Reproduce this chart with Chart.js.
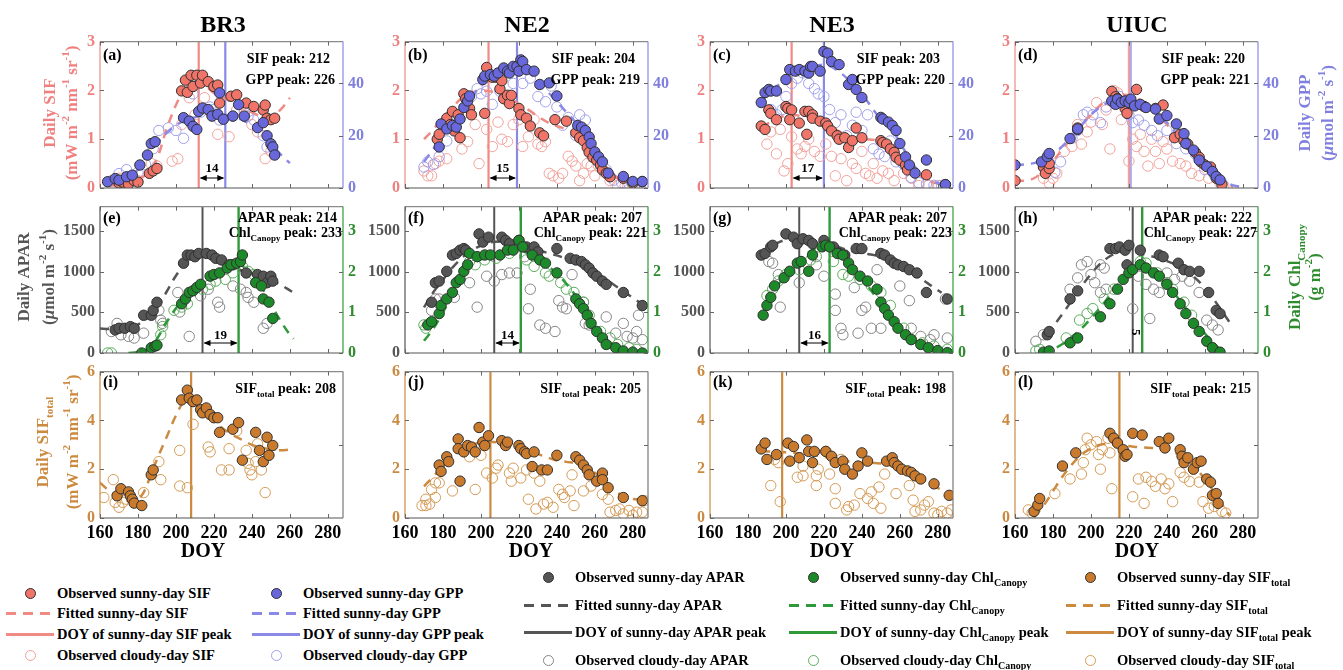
<!DOCTYPE html>
<html>
<head>
<meta charset="utf-8">
<script src="https://cdn.jsdelivr.net/npm/chart.js@4.4.0/dist/chart.umd.min.js"></script>
<style>
  body { margin: 0; background: #fff; width: 1343px; height: 670px; overflow: hidden; position: relative; font-family: "Liberation Serif", "Times New Roman", serif; }
  canvas { position: absolute; }
  .ttl { position: absolute; top: 11px; font-weight: bold; font-size: 24px; line-height: 26px; transform: translateX(-50%); }
  .li { position: absolute; height: 20px; white-space: nowrap; font-weight: bold; font-size: 14.5px; line-height: 20px; }
  .li .mk { position: absolute; left: 0; top: 0; width: 50px; height: 20px; }
  .li .tx { position: absolute; left: 51px; top: 0; }
  .li sub { font-size: 10px; vertical-align: -4px; }
</style>
</head>
<body>
<script>
const sites = ['BR3', 'NE2', 'NE3', 'UIUC'];
const letters = ['a', 'b', 'c', 'd', 'e', 'f', 'g', 'h', 'i', 'j', 'k', 'l'];
const xTicks = [160, 180, 200, 220, 240, 260, 280];
const sifTicks = [0, 1, 2, 3];
const gppTicks = [0, 20, 40];
const aparTicks = [0, 500, 1000, 1500];
const chlTicks = [0, 1, 2, 3];
const siftTicks = [0, 2, 4, 6];

const sifPeak = [212, 204, 203, 220];
const gppPeak = [226, 219, 220, 221];
const aparPeak = [214, 207, 207, 222];
const chlPeak = [233, 221, 223, 227];
const siftPeak = [208, 205, 198, 215];

// ---- BR3 ----
const br3SifSun = [[170,0.1],[172,0.12],[175,0.08],[178,0.15],[180,0.12],[186,0.3],[188,0.35],[190,0.4],[203,1.99],[205,2.21],[206,1.96],[208,2.31],[209,2.08],[211,2.31],[213,2.15],[214,2.31],[217,2.18],[220,2.08],[222,2.11],[223,1.74],[229,1.88],[232,1.91],[237,1.74],[241,1.67],[246,1.6],[247,1.7],[248,1.43],[250,1.4],[252,1.43]];
const br3GppSun = [[164,2.4],[168,3.6],[170,3.0],[174,4.3],[177,4.9],[181,8.8],[185,12.6],[187,17],[189,17.7],[204,26.9],[207,25.6],[209,23.6],[211,22.4],[212,29.3],[214,30.6],[217,30],[219,27.5],[222,28.2],[223,36.4],[225,26.3],[230,27.5],[233,31.9],[236,27.5],[243,23.1],[246,25],[248,20],[250,16.9],[251,15.7],[252,12.6]];
const br3SifCloud = [[166,0.15],[170,0.2],[175,0.1],[180,0.15],[187,0.5],[190,0.45],[198,0.55],[201,0.6],[203,1.3],[207,1.85],[210,1.5],[215,1.85],[218,1.55],[222,1.1],[228,1.05],[232,1.6],[236,1.5],[240,1.3],[243,1.15],[247,0.6],[250,0.75]];
const br3GppCloud = [[165,2.4],[168,3],[170,5.5],[174,7],[180,6],[184,9],[188,15],[191,22],[196,23],[200,22],[204,19],[209,36],[213,29],[218,31],[220,30],[223,26],[230,27.5],[236,29],[238,27.5],[241,26],[246,20],[248,15.7]];
const br3SifFit = [[165,0.05],[170,0.06],[175,0.1],[180,0.18],[185,0.3],[190,0.6],[195,1.2],[200,1.7],[205,2.05],[210,2.15],[215,2.1],[220,1.95],[225,1.85],[230,1.75],[235,1.65],[240,1.55],[245,1.47],[250,1.45],[255,1.6],[260,1.85]];
const br3GppFit = [[163,2],[170,3],[175,4.5],[180,7],[185,12],[190,17],[195,21],[200,24],[205,26],[210,27],[215,28],[220,28],[225,28],[230,27.5],[235,26],[240,24],[245,21],[250,17],[255,13],[260,9.5]];
const br3AparSun = [[168,284],[170,304],[173,304],[176,324],[178,304],[183,464],[187,464],[188,524],[190,624],[204,1104],[206,1204],[208,1204],[210,1184],[212,1224],[216,1224],[219,1204],[221,1164],[224,1144],[228,1084],[230,1084],[237,984],[243,964],[246,944],[248,864],[250,944],[251,884]];
const br3ChlSun = [[182,0],[187,0.13],[189,0.17],[190,0.19],[203,1.21],[205,1.33],[207,1.49],[209,1.53],[211,1.61],[213,1.69],[218,1.89],[220,1.93],[223,1.97],[227,2.09],[229,2.17],[232,2.21],[234,2.25],[235,2.41],[242,1.73],[245,1.65],[246,1.33],[249,1.25],[251,0.85]];
const br3AparCloud = [[166,264],[169,364],[171,224],[175,204],[178,184],[183,244],[191,524],[192,404],[193,364],[201,744],[202,504],[207,204],[213,704],[217,784],[222,624],[223,564],[230,824],[234,784],[237,744],[238,684],[241,624],[246,304],[248,364]];
const br3ChlCloud = [[164,0],[166,0],[192,0.45],[193,0.65],[199,1.05],[203,1.13],[206,1.21],[214,1.57],[218,1.69],[221,1.77],[226,1.81],[230,1.97],[235,2.13],[238,2.01],[241,1.93]];
const br3AparFit = [[160,300],[165,295],[170,295],[175,305],[180,350],[185,430],[190,560],[195,750],[200,950],[205,1100],[210,1180],[215,1190],[220,1160],[225,1110],[230,1060],[235,1010],[240,970],[245,930],[250,890],[255,840],[260,770],[262,740]];
const br3ChlFit = [[175,0],[180,0.02],[185,0.1],[190,0.35],[195,0.75],[200,1.1],[205,1.38],[210,1.6],[215,1.78],[220,1.92],[225,2.03],[230,2.12],[234,2.15],[238,2.05],[242,1.85],[246,1.55],[250,1.2],[255,0.8],[260,0.45],[262,0.35]];
const br3SiftSun = [[169,0.91],[171,1.2],[175,1.07],[176,0.91],[177,0.77],[178,0.61],[182,0.51],[187,1.77],[188,1.97],[203,4.84],[206,5.24],[207,4.91],[209,4.77],[211,4.84],[213,4.44],[214,4.31],[216,4.51],[218,4.24],[220,4.11],[222,4.11],[223,3.51],[230,3.64],[233,3.91],[235,2.37],[242,3.51],[244,2.77],[246,2.31],[248,3.31],[249,2.57],[251,2.97]];
const br3SiftCloud = [[162,0.84],[167,1.57],[168,0.64],[170,0.44],[172,0.64],[174,0.77],[183,1.04],[191,2.31],[192,1.57],[202,2.77],[202,1.31],[206,1.24],[209,3.84],[217,2.91],[218,2.71],[224,1.97],[228,1.97],[228,2.84],[232,3.57],[237,2.77],[238,2.24],[239,1.97],[240,1.77],[242,2.31],[243,3.04],[245,1.97],[247,1.04]];
const br3SiftFit = [[160,1.45],[165,1.1],[170,0.85],[175,0.7],[178,0.65],[180,0.75],[183,1.05],[186,1.6],[190,2.4],[195,3.3],[200,4.2],[205,4.9],[208,5.05],[212,4.55],[216,4.2],[220,3.95],[225,3.65],[230,3.4],[235,3.2],[240,3.0],[245,2.9],[250,2.8],[255,2.78],[260,2.8]];

// ---- NE2 ----
const ne2SifSun = [[177,1.0],[178,1.1],[182,1.43],[184,1.3],[185,1.57],[186,1.17],[188,1.5],[189,1.03],[191,1.93],[192,1.83],[194,1.63],[195,1.5],[202,1.53],[203,2.47],[206,2.27],[208,2.27],[210,2.03],[211,2.2],[212,1.83],[214,1.9],[215,1.73],[216,1.9],[220,1.63],[221,1.5],[224,1.43],[226,1.27],[231,1.13],[233,1.07],[239,1.4],[245,1.37],[250,1.13],[252,1.03],[254,0.97],[256,0.83],[257,0.73],[259,0.63],[261,0.57],[263,0.47],[264,0.37],[266,0.3],[268,0.23],[275,0.2],[280,0.1],[285,0.13]];
const ne2GppSun = [[178,15.7],[179,24.5],[182,22.6],[185,23.9],[187,23.3],[189,26.4],[191,30.8],[193,33.3],[194,35.2],[201,41.5],[202,42.8],[205,43.4],[207,42.8],[209,44],[212,45.9],[214,44.7],[215,44],[217,46.5],[219,46.5],[220,44.7],[221,49],[222,48.4],[224,45.3],[228,44.7],[231,39.6],[236,40.2],[240,35.2],[251,23.9],[253,23.3],[255,22],[257,19.5],[258,17],[260,13.8],[262,11.9],[264,10],[267,5.7],[275,4.4],[280,2.5],[285,2.5]];
const ne2SifCloud = [[170,0.35],[172,0.25],[174,0.25],[176,0.5],[178,0.55],[182,0.6],[186,1.25],[190,0.8],[193,0.95],[197,1.3],[199,0.5],[203,1.2],[206,0.85],[209,1.35],[211,1.0],[214,0.95],[217,1.3],[220,1.4],[222,0.85],[225,1.05],[228,1.4],[230,0.9],[232,0.85],[234,0.95],[236,0.3],[238,0.25],[241,0.2],[243,0.3],[246,0.65],[248,0.55],[250,0.45],[252,0.15],[254,0.3],[256,0.5],[258,0.45],[260,0.25],[262,0.45],[265,0.35],[268,0.15],[272,0.05],[276,0.05],[280,0.05],[284,0.05]];
const ne2GppCloud = [[170,8],[172,10],[175,9],[178,12],[182,18],[186,22],[190,28],[195,35],[198,38],[200,36],[203,37],[206,32],[210,37],[213,35],[217,40],[222,40],[226,42],[230,35],[234,33],[237,39],[240,31],[243,24],[246,27],[250,20],[252,28],[255,26],[258,14],[262,10],[266,7],[270,3],[274,2],[278,1.5],[282,1],[286,1]];
const ne2SifFit = [[170,1.0],[175,1.2],[180,1.45],[185,1.65],[190,1.85],[195,1.95],[200,2.0],[205,1.98],[210,1.93],[215,1.85],[220,1.72],[225,1.6],[230,1.47],[235,1.35],[240,1.27],[245,1.2],[250,1.1],[255,0.9],[260,0.65],[265,0.42],[270,0.25],[275,0.14],[280,0.1],[285,0.1]];
const ne2GppFit = [[170,10],[175,15],[180,20],[185,25],[190,30],[195,35],[200,39],[205,42],[210,44],[215,45],[220,45],[225,44],[230,41],[235,37],[240,33],[245,29],[250,25],[255,20],[260,14],[265,9],[270,5],[275,3],[280,2],[285,2]];
const ne2AparSun = [[174,624],[176,864],[178,884],[182,1004],[185,1204],[187,1224],[189,1264],[191,1284],[192,1264],[199,1464],[201,1364],[204,1424],[211,1424],[213,1384],[215,1344],[220,1384],[224,1304],[228,1304],[230,1244],[240,1284],[247,1164],[250,1144],[253,1124],[255,1084],[257,1044],[259,984],[261,944],[264,884],[266,844],[275,744],[285,584]];
const ne2ChlSun = [[172,0.69],[174,0.77],[178,0.97],[179,1.17],[182,1.33],[185,1.49],[187,1.73],[189,1.81],[191,2.01],[193,2.17],[194,2.45],[198,2.37],[202,2.41],[205,2.41],[210,2.41],[214,2.53],[217,2.53],[220,2.77],[222,2.61],[227,2.41],[231,2.29],[234,2.21],[240,1.97],[250,1.33],[252,1.21],[254,1.09],[256,0.93],[258,0.73],[261,0.53],[264,0.37],[266,0.21],[271,0.13],[275,0.05],[280,0.02],[285,0]];
const ne2AparCloud = [[174,524],[176,664],[178,664],[186,684],[194,864],[198,564],[203,944],[207,884],[211,964],[215,984],[219,984],[223,1184],[226,784],[225,544],[231,344],[234,304],[239,264],[241,644],[243,564],[245,544],[248,964],[254,624],[255,364],[257,344],[266,444],[271,244],[275,364],[277,204],[280,184],[282,264],[283,464],[285,164]];
const ne2ChlCloud = [[170,0.69],[171,0.61],[173,0.73],[194,2.25],[197,2.17],[202,2.29],[208,2.33],[215,2.45],[224,2.29],[228,2.13],[234,1.97],[236,1.89],[242,1.73],[245,1.57],[249,1.49],[254,1.25],[257,0.93],[263,0.53],[268,0.37],[272,0.21],[278,0.13],[282,0.09]];
const ne2AparFit = [[170,560],[175,750],[180,900],[185,1050],[190,1170],[195,1260],[200,1320],[205,1360],[210,1370],[215,1360],[220,1340],[225,1310],[230,1270],[235,1230],[240,1200],[245,1160],[250,1120],[255,1070],[260,1000],[265,920],[270,840],[275,760],[280,680],[285,600]];
const ne2ChlFit = [[170,0.3],[175,0.6],[180,1.0],[185,1.45],[190,1.85],[195,2.15],[200,2.3],[205,2.35],[210,2.4],[215,2.45],[220,2.5],[225,2.45],[230,2.3],[235,2.15],[240,1.95],[245,1.7],[250,1.4],[255,1.05],[260,0.7],[265,0.4],[270,0.2],[275,0.08],[280,0.03],[285,0.01]];
const ne2SiftSun = [[178,2.17],[179,1.91],[182,2.51],[183,2.31],[188,3.24],[188,2.84],[191,2.71],[193,2.97],[195,2.91],[189,1.51],[197,2.71],[199,3.71],[201,3.11],[202,2.97],[204,3.37],[211,3.17],[213,2.97],[214,3.11],[220,2.97],[221,2.84],[223,2.71],[224,2.64],[228,2.71],[227,2.11],[232,1.97],[235,1.97],[240,2.57],[250,2.51],[252,2.37],[254,2.17],[256,1.97],[257,1.77],[261,1.51],[264,1.84],[264,1.57],[267,1.24],[275,0.84],[285,0.71]];
const ne2SiftCloud = [[169,0.51],[171,0.77],[171,0.51],[173,0.57],[174,1.17],[176,1.44],[178,1.44],[176,0.84],[185,1.11],[194,2.51],[197,1.17],[200,2.57],[203,1.84],[206,1.64],[208,2.04],[209,2.17],[215,1.84],[216,1.51],[217,2.04],[221,1.64],[224,1.97],[225,0.77],[228,1.84],[229,0.37],[231,1.51],[233,0.57],[235,0.64],[238,0.44],[241,1.17],[243,0.97],[244,0.84],[247,1.11],[248,1.77],[249,0.51],[254,1.11],[258,1.31],[264,0.97],[267,0.77],[268,0.24],[271,0.31],[273,0.37],[275,0.17],[278,0.31],[280,0.11],[282,0.24],[285,0.24],[286,0.71]];
const ne2SiftFit = [[170,1.3],[175,1.7],[180,2.15],[185,2.55],[190,2.85],[195,3.0],[200,3.1],[205,3.12],[210,3.08],[215,3.0],[220,2.9],[225,2.78],[230,2.62],[235,2.48],[240,2.36],[245,2.3],[250,2.25],[255,2.1],[260,1.85],[265,1.5],[270,1.15],[275,0.9],[280,0.78],[285,0.75]];

// ---- NE3 ----
const ne3SifSun = [[187,1.27],[189,1.2],[191,1.6],[192,1.53],[195,1.4],[200,1.67],[201,1.63],[203,1.6],[202,1.4],[207,1.33],[210,1.57],[212,1.57],[214,1.5],[211,1.1],[214,1.43],[218,1.37],[221,1.33],[222,1.27],[224,1.17],[227,1.07],[228,1.0],[231,1.03],[233,0.83],[235,0.97],[237,1.23],[240,1.03],[250,0.97],[251,0.93],[253,0.9],[255,0.8],[257,0.73],[258,0.63],[260,0.57],[263,0.47],[264,0.37],[274,0.27],[284,0.07]];
const ne3GppSun = [[187,32.7],[189,36.5],[191,37.7],[192,37.1],[195,37.1],[200,41.5],[202,45.3],[205,44.7],[207,45.3],[210,44.7],[212,44],[213,46.5],[214,46.5],[218,44.7],[220,52.2],[222,51.6],[224,48.4],[228,47.2],[233,39.6],[235,41.5],[237,37.7],[240,34.6],[250,27],[251,26.4],[254,25.2],[256,23.9],[258,22],[260,17],[263,11.9],[265,8.8],[268,5.7],[274,10.7],[284,1.3]];
const ne3SifCloud = [[190,0.9],[192,1.15],[195,0.7],[197,1.2],[199,0.35],[201,0.5],[203,1.05],[206,0.8],[208,0.7],[210,0.85],[212,1.0],[215,0.75],[218,0.65],[221,0.9],[224,0.65],[226,0.25],[229,0.6],[232,0.15],[235,0.5],[237,0.4],[240,0.75],[242,0.3],[244,0.25],[246,0.5],[248,0.2],[251,0.35],[254,0.3],[257,0.15],[262,0.3],[266,0.2],[270,0.05],[275,0.05],[280,0.05]];
const ne3GppCloud = [[192,30],[195,28],[198,30],[200,35],[203,40],[206,42],[209,44],[212,40],[215,38],[217,36],[220,35],[223,30],[226,25],[229,28],[232,20],[235,24],[237,29],[240,22],[243,28],[246,15],[249,13],[252,12],[255,18],[258,10],[262,9],[266,4],[270,2],[274,1.5],[278,1],[282,1]];
const ne3SifFit = [[187,1.25],[192,1.35],[197,1.45],[202,1.5],[207,1.48],[212,1.45],[217,1.38],[222,1.28],[227,1.18],[232,1.08],[237,1.02],[242,1.0],[247,0.98],[252,0.92],[257,0.75],[262,0.55],[267,0.35],[272,0.22],[277,0.12],[282,0.08]];
const ne3GppFit = [[187,33],[192,37],[197,40],[202,43],[207,45],[212,46],[217,47],[222,47],[227,45],[232,42],[237,38],[242,34],[247,29],[252,25],[257,21],[262,15],[267,9],[272,5],[277,2.5],[282,1.5]];
const ne3AparSun = [[187,1204],[189,1224],[192,1304],[193,1324],[200,1464],[204,1424],[206,1344],[209,1404],[212,1384],[214,1344],[220,1384],[225,1304],[228,1224],[231,1204],[237,1284],[240,1284],[250,1224],[252,1204],[255,1144],[257,1104],[259,1084],[262,1064],[265,1024],[269,984],[274,744],[285,664]];
const ne3ChlSun = [[188,0.93],[190,1.17],[192,1.37],[194,1.65],[199,1.85],[202,2.01],[206,2.21],[208,2.25],[212,2.01],[214,2.41],[219,2.61],[221,2.65],[223,2.61],[227,2.45],[230,2.41],[233,2.21],[235,2.05],[239,1.89],[243,1.77],[248,1.57],[250,1.25],[252,1.09],[254,0.93],[257,0.77],[259,0.61],[263,0.45],[266,0.33],[271,0.21],[275,0.13],[280,0.06],[285,0.01]];
const ne3AparCloud = [[191,1124],[193,1104],[196,964],[197,564],[207,864],[216,1084],[220,944],[226,524],[226,724],[229,304],[230,224],[236,804],[238,244],[240,524],[242,564],[245,304],[248,1024],[250,304],[260,824],[265,644],[266,304],[271,204],[276,164],[278,224],[284,664],[285,184]];
const ne3ChlCloud = [[190,1.41],[193,1.57],[196,1.77],[200,1.93],[207,2.05],[213,2.29],[216,2.37],[225,2.25],[230,1.93],[233,1.89],[239,1.81],[245,1.65],[250,1.49],[255,1.17],[262,0.61],[266,0.33],[272,0.25],[278,0.17],[285,0.09]];
const ne3AparFit = [[187,1220],[192,1300],[197,1370],[202,1400],[207,1410],[212,1400],[217,1380],[222,1350],[227,1310],[232,1270],[237,1240],[242,1220],[247,1200],[252,1170],[257,1120],[262,1060],[267,990],[272,900],[277,820],[282,740]];
const ne3ChlFit = [[187,0.9],[192,1.35],[197,1.75],[202,2.05],[207,2.3],[212,2.48],[217,2.6],[222,2.62],[227,2.52],[232,2.3],[237,2.02],[242,1.72],[247,1.4],[252,1.08],[257,0.78],[262,0.52],[267,0.32],[272,0.18],[277,0.09],[282,0.03]];
const ne3SiftSun = [[187,2.83],[189,3.07],[190,2.4],[195,2.6],[201,3.07],[204,2.93],[202,2.33],[207,2.47],[211,3.2],[212,2.73],[215,2.73],[214,2.27],[221,2.73],[224,2.53],[226,2.27],[230,2.33],[231,2],[235,1.8],[238,2.13],[240,2.67],[243,2.33],[253,2.33],[256,2.47],[257,2.27],[259,2.13],[261,2],[264,1.93],[266,1.87],[268,1.73],[271,1.6],[278,1.4],[286,0.93]];
const ne3SiftCloud = [[192,1.33],[194,2.4],[196,2.27],[197,0.67],[206,1.67],[209,1.73],[209,2.13],[216,1.73],[216,1.33],[217,2],[221,2.73],[223,1.8],[226,1.2],[226,0.6],[229,2.4],[232,0.33],[233,0.47],[236,0.53],[239,1],[243,0.8],[245,1.07],[246,0.6],[249,1.27],[250,0.4],[252,1.8],[258,1],[265,1.33],[267,0.73],[268,0.27],[271,0.33],[273,0.53],[275,0.67],[278,0.2],[280,0.13],[282,0.27],[285,0.2],[287,0.33]];
const ne3SiftFit = [[187,2.75],[192,2.72],[197,2.7],[202,2.68],[207,2.65],[212,2.6],[217,2.55],[222,2.48],[227,2.4],[232,2.33],[237,2.27],[242,2.25],[247,2.25],[252,2.22],[257,2.1],[262,1.95],[267,1.75],[272,1.55],[277,1.35],[282,1.15],[286,1.0]];

// ---- UIUC ----
const uiucSifSun = [[160,0.15],[175,0.43],[176,0.3],[178,0.4],[178,0.5],[193,1.2],[193,1.23],[211,1.98],[213,1.87],[214,1.83],[216,1.77],[218,1.63],[219,1.53],[224,2.02],[221,1.77],[228,1.67],[234,1.63],[238,1.7],[244,1.03],[247,1.1],[249,0.97],[251,0.9],[255,0.73],[257,0.63],[258,0.53],[260,0.47],[263,0.43],[266,0.2],[269,0.07]];
const uiucGppSun = [[160,8.8],[174,10],[177,12],[178,13.2],[189,18.9],[193,22.6],[211,33.3],[213,32],[214,34],[216,32.7],[218,33.3],[220,32.7],[221,34],[223,31.4],[226,32],[229,30.8],[234,30.2],[236,26.4],[240,27.7],[245,24.5],[249,20.8],[250,17],[254,14.5],[257,10.7],[261,8.2],[264,6.3],[266,4.4],[268,3.1]];
const uiucSifCloud = [[175,0.2],[178,0.1],[180,0.2],[182,0.3],[186,0.75],[190,0.85],[193,1.3],[195,0.9],[198,1.15],[200,1.35],[203,1.75],[206,1.3],[208,1.6],[210,0.8],[212,2.0],[214,1.95],[216,1.4],[220,0.55],[222,1.0],[224,0.85],[226,1.1],[228,0.75],[230,0.45],[232,1.0],[234,0.75],[236,0.5],[238,0.95],[240,0.8],[243,0.55],[247,0.5],[250,0.45],[253,0.3],[257,0.25],[262,0.2],[268,0.1],[270,0.05]];
const uiucGppCloud = [[175,8],[178,10],[181,6],[184,10],[190,19],[193,22],[196,28],[198,29],[201,28],[205,25],[208,31],[211,33],[215,35],[220,28],[222,25],[225,26],[228,24],[232,22],[235,20],[240,22],[245,17],[250,15],[255,13],[260,7],[265,5],[269,2]];
const uiucSifFit = [[160,0.15],[165,0.15],[170,0.2],[175,0.35],[180,0.55],[185,0.8],[190,1.05],[195,1.3],[200,1.5],[205,1.7],[210,1.85],[215,1.9],[220,1.9],[225,1.82],[230,1.7],[235,1.52],[240,1.3],[245,1.07],[250,0.85],[255,0.62],[260,0.42],[265,0.24],[270,0.1],[275,0.03]];
const uiucGppFit = [[160,8.8],[165,9],[170,9.5],[175,11],[180,13],[185,16],[190,20],[195,24],[200,28],[205,31],[210,33],[215,34],[220,34],[225,33],[230,31],[235,28],[240,25],[245,21],[250,17],[255,13],[260,9],[265,5],[270,2.5],[275,1],[280,0.3]];
const uiucAparSun = [[177,224],[178,264],[189,664],[193,764],[210,1284],[213,1284],[215,1304],[218,1264],[220,1324],[219,1084],[226,1264],[236,1204],[238,1184],[246,1104],[249,1024],[252,1004],[257,1004],[262,744],[266,524],[268,484]];
const uiucChlSun = [[175,0.02],[178,0.05],[189,0.25],[193,0.37],[205,0.89],[210,1.21],[214,1.57],[217,1.81],[220,1.97],[222,2.05],[226,2.17],[229,2.09],[233,1.97],[236,1.89],[240,1.69],[243,1.49],[247,1.21],[250,0.97],[254,0.73],[257,0.53],[261,0.29],[264,0.13],[268,0.02]];
const uiucAparCloud = [[171,144],[175,224],[189,784],[193,924],[195,1084],[198,1124],[200,964],[202,864],[205,1084],[207,1044],[208,784],[205,744],[222,544],[225,944],[229,844],[231,424],[233,784],[236,744],[240,984],[244,904],[248,944],[252,884],[257,744],[261,404],[264,344],[267,284]];
const uiucChlCloud = [[171,0.05],[173,0.09],[187,0.37],[194,0.81],[198,0.97],[201,1.09],[207,1.33],[212,1.57],[226,2.25],[229,2.21],[235,1.97],[240,1.73],[243,1.57],[249,1.25],[253,0.93]];
const uiucAparFit = [[176,240],[180,330],[185,480],[190,650],[195,820],[200,970],[205,1100],[210,1190],[215,1240],[220,1250],[225,1230],[230,1200],[235,1170],[240,1130],[245,1080],[250,1010],[255,920],[260,800],[265,650],[270,480],[273,380]];
const uiucChlFit = [[174,0.02],[180,0.1],[185,0.22],[190,0.4],[195,0.6],[200,0.85],[205,1.12],[210,1.42],[215,1.72],[220,1.98],[225,2.1],[230,2.05],[235,1.9],[240,1.68],[245,1.4],[250,1.1],[255,0.78],[260,0.48],[265,0.22],[268,0.1],[270,0.03]];
const uiucSiftSun = [[170,0.27],[172,0.53],[173,0.8],[185,2.13],[192,2.67],[210,3.47],[212,3.27],[214,3.07],[217,2.8],[218,2.53],[219,2.6],[222,3.47],[227,3.4],[236,3.13],[239,2.87],[241,3.27],[247,2.8],[248,2.53],[249,2.27],[251,2.47],[254,2],[256,2.27],[258,2.33],[261,1.6],[263,1.47],[264,0.93],[266,1],[267,0.6]];
const uiucSiftCloud = [[167,0.33],[169,0.2],[181,1],[189,1.6],[195,1.8],[196,2.27],[197,2.8],[198,3.27],[200,3],[203,3.13],[204,2.6],[205,2],[206,2.8],[209,3.27],[210,2.67],[211,1.2],[214,3.07],[222,0.87],[225,1.6],[228,0.6],[229,1.67],[232,1.5],[234,1.3],[237,1.6],[239,1.2],[241,1.4],[243,0.67],[247,1.87],[249,1.67],[252,1.5],[257,1.47],[259,0.67],[262,0.4],[265,0.47],[269,0.27],[271,0.2]];
const uiucSiftFit = [[170,0.05],[175,0.5],[180,1.1],[185,1.7],[190,2.2],[195,2.6],[200,2.85],[205,3.0],[210,3.05],[215,3.0],[220,2.95],[225,2.9],[230,2.88],[235,2.85],[240,2.8],[245,2.65],[250,2.4],[255,2.05],[260,1.6],[265,1.05],[270,0.45],[273,0.1]];

const sifSun = [br3SifSun, ne2SifSun, ne3SifSun, uiucSifSun];
const gppSun = [br3GppSun, ne2GppSun, ne3GppSun, uiucGppSun];
const sifCloud = [br3SifCloud, ne2SifCloud, ne3SifCloud, uiucSifCloud];
const gppCloud = [br3GppCloud, ne2GppCloud, ne3GppCloud, uiucGppCloud];
const sifFit = [br3SifFit, ne2SifFit, ne3SifFit, uiucSifFit];
const gppFit = [br3GppFit, ne2GppFit, ne3GppFit, uiucGppFit];
const aparSun = [br3AparSun, ne2AparSun, ne3AparSun, uiucAparSun];
const chlSun = [br3ChlSun, ne2ChlSun, ne3ChlSun, uiucChlSun];
const aparCloud = [br3AparCloud, ne2AparCloud, ne3AparCloud, uiucAparCloud];
const chlCloud = [br3ChlCloud, ne2ChlCloud, ne3ChlCloud, uiucChlCloud];
const aparFit = [br3AparFit, ne2AparFit, ne3AparFit, uiucAparFit];
const chlFit = [br3ChlFit, ne2ChlFit, ne3ChlFit, uiucChlFit];
const siftSun = [br3SiftSun, ne2SiftSun, ne3SiftSun, uiucSiftSun];
const siftCloud = [br3SiftCloud, ne2SiftCloud, ne3SiftCloud, uiucSiftCloud];
const siftFit = [br3SiftFit, ne2SiftFit, ne3SiftFit, uiucSiftFit];

// colours: [sunny fill, fitted/peak line, tick text, cloudy edge]
const cSif = ['#f07468', '#f08a84', '#f08080', '#f2a29c'];
const cGpp = ['#6868dc', '#8a8ae6', '#7f7fdf', '#a0a0ea'];
const cApar = ['#555555', '#555555', '#555555', '#858585'];
const cChl = ['#1d8a2a', '#2e9a3a', '#2e8b2e', '#5cad5c'];
const cSift = ['#c97a2c', '#cc8a40', '#cc8a40', '#d49a55'];
const EDGE = '#303030';

const FONT = '"Liberation Serif", "Times New Roman", serif';
const PL = 100, PR = 88, PT = 10, PB = 45, PW = 243, PH = 151;
const colLeft = [100, 405, 710, 1015];
const rowTop = [37, 202, 367];
const doyX = [103, 126, 122, 122];

function drawRich(ctx, parts, x, y, size, color, align, rot) {
  ctx.save();
  ctx.translate(x, y);
  if (rot) ctx.rotate(rot);
  ctx.fillStyle = color;
  ctx.textBaseline = 'alphabetic';
  ctx.textAlign = 'left';
  const small = Math.round(size * 0.66);
  const fontFor = k => (k === 'it' ? 'italic bold ' : 'bold ') + (k === 'sup' || k === 'sub' ? small : size) + 'px ' + FONT;
  let w = 0;
  parts.forEach(p => { ctx.font = fontFor(p[1]); w += ctx.measureText(p[0]).width; });
  let cx = align === 'right' ? -w : align === 'center' ? -w / 2 : 0;
  parts.forEach(p => {
    ctx.font = fontFor(p[1]);
    const dy = p[1] === 'sup' ? -size * 0.45 : p[1] === 'sub' ? size * 0.32 : 0;
    ctx.fillText(p[0], cx, dy);
    cx += ctx.measureText(p[0]).width;
  });
  ctx.restore();
}

function seg(ctx, x1, y1, x2, y2) {
  ctx.beginPath(); ctx.moveTo(x1, y1); ctx.lineTo(x2, y2); ctx.stroke();
}

const decor = {
  id: 'decor',
  beforeDatasetsDraw(chart) {
    const d = chart.canvas.decor, a = chart.chartArea, ctx = chart.ctx, x = chart.scales.x;
    ctx.save();
    d.lines.forEach(l => {
      const px = x.getPixelForValue(l[0]);
      ctx.strokeStyle = l[1]; ctx.lineWidth = l[2]; ctx.globalAlpha = l[3] || 1;
      seg(ctx, px, a.top, px, a.bottom);
    });
    ctx.restore();
  },
  afterDraw(chart) {
    const d = chart.canvas.decor, a = chart.chartArea, ctx = chart.ctx, x = chart.scales.x;
    ctx.save();
    // box
    ctx.lineWidth = 1.2;
    ctx.strokeStyle = '#8a8a8a'; seg(ctx, a.left, a.top, a.right, a.top);
    ctx.strokeStyle = '#555'; seg(ctx, a.left, a.bottom, a.right, a.bottom);
    ctx.strokeStyle = d.leftColor; seg(ctx, a.left, a.top, a.left, a.bottom);
    ctx.strokeStyle = d.rightColor; seg(ctx, a.right, a.top, a.right, a.bottom);
    // inward ticks
    ctx.lineWidth = 1; ctx.strokeStyle = '#666';
    xTicks.forEach(v => {
      const px = Math.round(x.getPixelForValue(v)) + 0.5;
      seg(ctx, px, a.bottom, px, a.bottom - 4);
      seg(ctx, px, a.top, px, a.top + 4);
    });
    chart.scales.y.ticks.forEach(t => {
      const py = Math.round(chart.scales.y.getPixelForValue(t.value)) + 0.5;
      seg(ctx, a.left, py, a.left + 4, py);
    });
    chart.scales.y1.ticks.forEach(t => {
      const py = Math.round(chart.scales.y1.getPixelForValue(t.value)) + 0.5;
      seg(ctx, a.right, py, a.right - 4, py);
    });
    // texts in the panel
    d.texts.forEach(t => drawRich(ctx, t.p, a.left + t.x, a.top + t.y, t.size, '#000', t.align));
    // lag between peaks
    if (d.gap) {
      const g = d.gap;
      const x1 = x.getPixelForValue(g.from), x2 = x.getPixelForValue(g.to);
      if (x2 - x1 > 15) {
        const y = a.bottom - g.ay;
        ctx.strokeStyle = '#000'; ctx.fillStyle = '#000'; ctx.lineWidth = 1;
        seg(ctx, x1 + 2, y, x2 - 2, y);
        ctx.beginPath(); ctx.moveTo(x1 + 1, y); ctx.lineTo(x1 + 8, y - 3); ctx.lineTo(x1 + 8, y + 3); ctx.fill();
        ctx.beginPath(); ctx.moveTo(x2 - 1, y); ctx.lineTo(x2 - 8, y - 3); ctx.lineTo(x2 - 8, y + 3); ctx.fill();
        drawRich(ctx, [[String(g.label), '']], (x1 + x2) / 2, a.bottom - g.ty, 13, '#000', 'center');
      } else {
        drawRich(ctx, [[String(g.label), '']], (x1 + x2) / 2 - 5, a.bottom - 24, 13, '#000', 'left', Math.PI / 2);
      }
    }
    // axis titles
    d.titles.forEach(t => drawRich(ctx, t.p, t.x, t.y, t.size, t.color, 'center', -Math.PI / 2));
    if (d.doy) drawRich(ctx, [['DOY', '']], a.left + d.doy, a.bottom + 39, 20, '#000', 'center');
    ctx.restore();
  }
};

function scat(data, axis, fill, edge, order) {
  return { data, yAxisID: axis, pointRadius: 5.2, pointHoverRadius: 5.2, backgroundColor: fill, borderColor: edge, borderWidth: 1, order };
}
function fitLine(data, axis, color, order) {
  return { data, yAxisID: axis, showLine: true, pointRadius: 0, borderColor: color, borderWidth: 2.5, borderDash: [9, 7], tension: 0.35, order };
}

function yScale(pos, min, max, ticks, color, show) {
  return {
    type: 'linear', position: pos, min, max,
    afterFit: s => { s.width = pos === 'left' ? PL : PR; },
    afterBuildTicks: s => { s.ticks = ticks.map(v => ({ value: v })); },
    grid: { display: false, drawTicks: false }, border: { display: false },
    ticks: { display: show, padding: 5, color, font: { family: FONT, size: 16, weight: 'bold' }, callback: v => String(v) }
  };
}

function makePanel(col, row, datasets, yl, yr, decorOpts) {
  const cv = document.createElement('canvas');
  cv.width = PL + PW + PR; cv.height = PT + PH + PB;
  cv.style.left = (colLeft[col] - PL) + 'px';
  cv.style.top = (rowTop[row] - PT) + 'px';
  cv.decor = decorOpts;
  document.body.appendChild(cv);
  new Chart(cv, {
    type: 'scatter',
    data: { datasets },
    options: {
      responsive: false, animation: false, events: [],
      layout: { padding: { top: PT, left: 0, right: 0, bottom: 0 } },
      plugins: { legend: { display: false }, tooltip: { enabled: false } },
      scales: {
        x: {
          type: 'linear', min: 160, max: 288,
          afterFit: s => { s.height = PB; },
          afterBuildTicks: s => { s.ticks = xTicks.map(v => ({ value: v })); },
          grid: { display: false, drawTicks: false }, border: { display: false },
          ticks: { display: row === 2, padding: 5, color: '#000', font: { family: FONT, size: 18, weight: 'bold' }, callback: v => String(v) }
        },
        y: yl,
        y1: yr
      }
    },
    plugins: [decor]
  });
}

const unitsSif = [['(mW m', ''], ['-2', 'sup'], [' nm', ''], ['-1', 'sup'], [' sr', ''], ['-1', 'sup'], [')', '']];
const unitsFlux = [['(', ''], ['\u03bc', 'it'], ['mol m', ''], ['-2', 'sup'], [' s', ''], ['-1', 'sup'], [')', '']];

for (let i = 0; i < 4; i++) {
  const L = letters;
  // row 1: SIF and GPP
  const t1 = [];
  if (i === 0) t1.push({ p: [['Daily SIF', '']], x: 55, y: 86, size: 17, color: cSif[2] }, { p: unitsSif, x: 77, y: 86, size: 17, color: cSif[2] });
  if (i === 3) t1.push({ p: [['Daily GPP', '']], x: 395, y: 86, size: 17, color: cGpp[2] }, { p: unitsFlux, x: 418, y: 86, size: 17, color: cGpp[2] });
  makePanel(i, 0, [
    scat(gppSun[i], 'y1', cGpp[0], EDGE, 1),
    scat(sifSun[i], 'y', cSif[0], EDGE, 2),
    fitLine(gppFit[i], 'y1', cGpp[1], 3),
    fitLine(sifFit[i], 'y', cSif[1], 4),
    scat(gppCloud[i], 'y1', 'rgba(0,0,0,0)', cGpp[3], 5),
    scat(sifCloud[i], 'y', 'rgba(0,0,0,0)', cSif[3], 6)
  ], yScale('left', 0, 3, sifTicks, cSif[2], true), yScale('right', 0, 56, gppTicks, cGpp[2], true), {
    leftColor: cSif[1], rightColor: cGpp[1],
    lines: [[sifPeak[i], cSif[1], 2.2, sifPeak[i] === gppPeak[i] - 1 ? 0.8 : 1], [gppPeak[i], cGpp[1], 2.2, sifPeak[i] === gppPeak[i] - 1 ? 0.7 : 1]],
    texts: [
      { p: [['(' + L[i] + ')', '']], x: 3, y: 18, size: 16 },
      { p: [['SIF peak: ' + sifPeak[i], '']], x: 230, y: 21, size: 14, align: 'right' },
      { p: [['GPP peak: ' + gppPeak[i], '']], x: 235, y: 42, size: 14, align: 'right' }
    ],
    gap: gppPeak[i] - sifPeak[i] > 3 ? { from: sifPeak[i], to: gppPeak[i], label: gppPeak[i] - sifPeak[i], ay: 10, ty: 16 } : null,
    titles: t1
  });

  // row 2: APAR and Chl canopy
  const t2 = [];
  if (i === 0) t2.push({ p: [['Daily APAR', '']], x: 29, y: 85, size: 17, color: cApar[2] }, { p: unitsFlux, x: 54, y: 85, size: 17, color: cApar[2] });
  if (i === 3) t2.push({ p: [['Daily Chl', ''], ['Canopy', 'sub']], x: 385, y: 85, size: 17, color: cChl[2] }, { p: [['(g m', ''], ['-2', 'sup'], [')', '']], x: 405, y: 85, size: 17, color: cChl[2] });
  makePanel(i, 1, [
    scat(chlSun[i], 'y1', cChl[0], EDGE, 1),
    scat(aparSun[i], 'y', cApar[0], EDGE, 2),
    fitLine(chlFit[i], 'y1', cChl[1], 3),
    fitLine(aparFit[i], 'y', cApar[1], 4),
    scat(chlCloud[i], 'y1', 'rgba(0,0,0,0)', cChl[3], 5),
    scat(aparCloud[i], 'y', 'rgba(0,0,0,0)', cApar[3], 6)
  ], yScale('left', 0, 1800, aparTicks, cApar[2], true), yScale('right', 0, 3.6, chlTicks, cChl[2], true), {
    leftColor: '#555', rightColor: cChl[1],
    lines: [[aparPeak[i], '#555', 2], [chlPeak[i], cChl[1], 2.4]],
    texts: [
      { p: [['(' + L[i + 4] + ')', '']], x: 3, y: 16, size: 16 },
      { p: [['APAR peak: ' + aparPeak[i], '']], x: 237, y: 15, size: 14, align: 'right' },
      { p: [['Chl', ''], ['Canopy', 'sub'], [' peak: ' + chlPeak[i], '']], x: 242, y: 30, size: 14, align: 'right' }
    ],
    gap: { from: aparPeak[i], to: chlPeak[i], label: chlPeak[i] - aparPeak[i], ay: 10, ty: 14 },
    titles: t2
  });

  // row 3: total SIF
  const t3 = [];
  if (i === 0) t3.push({ p: [['Daily SIF', ''], ['total', 'sub']], x: 48, y: 85, size: 17, color: cSift[2] }, { p: unitsSif, x: 78, y: 85, size: 17, color: cSift[2] });
  makePanel(i, 2, [
    scat(siftSun[i], 'y', cSift[0], EDGE, 1),
    fitLine(siftFit[i], 'y', cSift[1], 2),
    scat(siftCloud[i], 'y', 'rgba(0,0,0,0)', cSift[3], 3)
  ], yScale('left', 0, 6, siftTicks, cSift[2], true), yScale('right', 0, 6, [3], '#000', false), {
    leftColor: cSift[1], rightColor: '#777',
    lines: [[siftPeak[i], cSift[1], 2.2]],
    texts: [
      { p: [['(' + L[i + 8] + ')', '']], x: 3, y: 15, size: 16 },
      { p: [['SIF', ''], ['total', 'sub'], [' peak: ' + siftPeak[i], '']], x: 236, y: 21, size: 14, align: 'right' }
    ],
    gap: null,
    titles: t3,
    doy: doyX[i]
  });
}

// column titles
const titleX = [223, 527, 832, 1137];
sites.forEach((s, i) => {
  const d = document.createElement('div');
  d.className = 'ttl'; d.style.left = titleX[i] + 'px'; d.textContent = s;
  document.body.appendChild(d);
});

// legend
const legendNames = ['SIF', 'GPP', 'APAR', 'Chl<sub>Canopy</sub>', 'SIF<sub>total</sub>'];
const legendColors = [cSif, cGpp, cApar, cChl, cSift];
const legendMarkX = [30, 276, 548, 813, 1090];
const legendRows = [[593, 613, 634, 655], [593, 613, 634, 655], [577, 605, 632, 660], [577, 605, 632, 660], [577, 605, 632, 660]];
legendNames.forEach((n, k) => {
  const c = legendColors[k];
  const marks = [
    '<span style="position:absolute;left:19px;top:5px;width:9px;height:9px;border-radius:50%;background:' + c[0] + ';border:1px solid ' + EDGE + '"></span>',
    '<span style="position:absolute;left:0;top:9px;width:48px;height:2.5px;background:repeating-linear-gradient(90deg,' + c[1] + ' 0 10px,transparent 10px 17px)"></span>',
    '<span style="position:absolute;left:0;top:9px;width:48px;height:2.5px;background:' + c[1] + '"></span>',
    '<span style="position:absolute;left:19px;top:5px;width:9px;height:9px;border-radius:50%;border:1px solid ' + c[3] + '"></span>'
  ];
  const texts = ['Observed sunny-day ' + n, 'Fitted sunny-day ' + n, 'DOY of sunny-day ' + n + ' peak', 'Observed cloudy-day ' + n];
  for (let r = 0; r < 4; r++) {
    const d = document.createElement('div');
    d.className = 'li';
    d.style.left = (legendMarkX[k] - 24) + 'px';
    d.style.top = (legendRows[k][r] - 10) + 'px';
    d.innerHTML = '<span class="mk">' + marks[r] + '</span><span class="tx">' + texts[r] + '</span>';
    document.body.appendChild(d);
  }
});
</script>
</body>
</html>
